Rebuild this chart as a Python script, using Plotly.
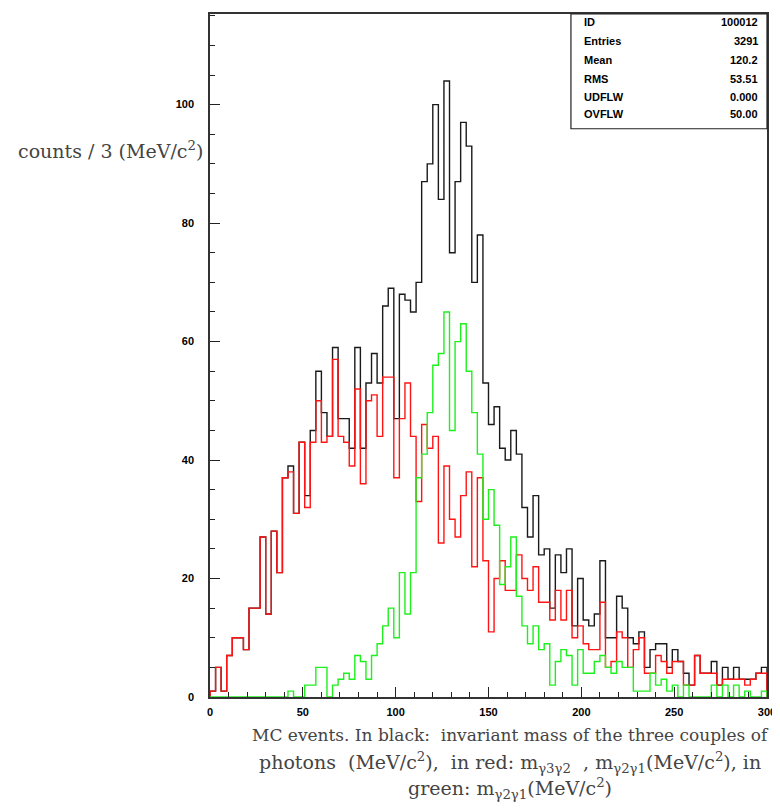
import plotly.graph_objects as go

# Histogram: 100 bins of 3 MeV/c^2 from 0 to 300
bin_width = 3
x_min, x_max = 0, 300

black_counts = [
    1, 5, 1, 7, 10, 10, 8, 15, 15, 27,
    14, 28, 21, 37, 39, 31, 43, 34, 45, 55,
    48, 44, 59, 47, 47, 42, 59, 42, 53, 58,
    53, 66, 69, 47, 68, 67, 65, 70, 87, 90,
    100, 84, 104, 75, 87, 97, 93, 70, 78, 53,
    46, 49, 42, 40, 45, 41, 32, 27, 34, 24,
    25, 15, 24, 21, 25, 12, 20, 13, 12, 14,
    23, 10, 10, 17, 15, 10, 9, 11, 5, 8,
    9, 9, 5, 8, 6, 4, 2, 7, 4, 4,
    6, 2, 5, 3, 5, 3, 3, 3, 4, 5,
]

red_counts = [
    1, 5, 1, 7, 10, 10, 8, 15, 15, 27,
    14, 28, 21, 37, 38, 31, 43, 32, 43, 50,
    43, 44, 57, 44, 43, 39, 52, 36, 50, 51,
    44, 54, 54, 37, 47, 53, 44, 33, 46, 42,
    44, 26, 39, 30, 27, 34, 38, 22, 37, 23,
    11, 20, 23, 18, 18, 24, 20, 18, 22, 16,
    16, 13, 18, 13, 18, 10, 12, 9, 8, 8,
    16, 5, 6, 11, 10, 5, 8, 10, 4, 4,
    7, 6, 4, 6, 6, 2, 2, 7, 4, 4,
    4, 2, 3, 3, 3, 3, 2, 3, 4, 4,
]

green_counts = [
    0, 0, 0, 0, 0, 0, 0, 0, 0, 0,
    0, 0, 0, 0, 1, 0, 0, 2, 2, 5,
    5, 0, 2, 3, 4, 3, 7, 6, 3, 7,
    9, 12, 15, 10, 21, 14, 21, 37, 41, 48,
    56, 58, 65, 45, 60, 63, 55, 48, 41, 30,
    35, 29, 19, 22, 27, 17, 12, 9, 12, 8,
    9, 2, 6, 8, 7, 2, 8, 4, 4, 6,
    7, 5, 4, 6, 5, 5, 1, 1, 1, 4,
    2, 3, 1, 2, 0, 2, 0, 0, 0, 0,
    2, 0, 2, 0, 2, 0, 1, 0, 0, 1,
]

stats_labels = ["ID", "Entries", "Mean", "RMS", "UDFLW", "OVFLW"]
stats_values = ["100012", "3291", "120.2", "53.51", "0.000", "50.00"]

y_title = "counts / 3 (MeV/c<sup>2</sup>)"
caption_lines = [
    "MC events. In black:&nbsp; invariant mass of the three couples of",
    "photons&nbsp; (MeV/c<sup>2</sup>),&nbsp; in red: m<sub>γ3γ2</sub>&nbsp; , m<sub>γ2γ1</sub>(MeV/c<sup>2</sup>), in",
    "green: m<sub>γ2γ1</sub>(MeV/c<sup>2</sup>)",
]

n_bins = len(black_counts)
left_edges = [x_min + i * bin_width for i in range(n_bins)]


def step_xy(counts):
    xs = [left_edges[0]] + left_edges + [x_max]
    ys = [0] + list(counts) + [0]
    return xs, ys


fig = go.Figure()
for counts, color in [(black_counts, "#1a1a1a"), (red_counts, "#ff1414"), (green_counts, "#1ef01e")]:
    xs, ys = step_xy(counts)
    fig.add_trace(go.Scatter(x=xs, y=ys, mode="lines", line=dict(color=color, width=1.4, shape="hv"),
                             hoverinfo="skip", showlegend=False))

tick_font = dict(family="Liberation Sans, Arial, sans-serif", size=11, color="#000", weight="bold")

fig.update_xaxes(range=[x_min, x_max], showgrid=False, zeroline=False,
                 showline=True, mirror=True, linecolor="#333", linewidth=1.5,
                 ticks="inside", ticklen=10, tickwidth=1.2, tickcolor="#222", dtick=50, tick0=0,
                 minor=dict(ticks="inside", ticklen=5, dtick=10, tickcolor="#222", tickwidth=1),
                 tickfont=tick_font, ticklabelstandoff=4)
fig.update_yaxes(range=[0, 115.3], showgrid=False, zeroline=False,
                 showline=True, mirror=True, linecolor="#333", linewidth=1.5,
                 ticks="inside", ticklen=10, tickwidth=1.2, tickcolor="#222", dtick=20, tick0=0,
                 minor=dict(ticks="inside", ticklen=5, dtick=5, tickcolor="#222", tickwidth=1),
                 tickfont=tick_font, ticklabelstandoff=12)

# statistics box
fig.add_shape(type="rect", xref="paper", yref="paper", x0=0.648, x1=1.0, y0=0.832, y1=1.0,
              line=dict(color="#222", width=1.2), fillcolor="white", layer="above")
row_y = [0.988, 0.961, 0.933, 0.905, 0.879, 0.853]
for lab, val, yy in zip(stats_labels, stats_values, row_y):
    fig.add_annotation(xref="paper", yref="paper", x=0.668, y=yy, text=lab, showarrow=False,
                       xanchor="left", yanchor="middle", font=tick_font)
    fig.add_annotation(xref="paper", yref="paper", x=0.9875, y=yy, text=val, showarrow=False,
                       xanchor="right", yanchor="middle", font=tick_font)

serif = "DejaVu Serif, Liberation Serif, serif"
fig.add_annotation(xref="paper", yref="paper", x=-0.009, y=0.8015, text=y_title, showarrow=False,
                   xanchor="right", yanchor="middle", font=dict(family=serif, size=19, color="#444"))

cap_y = [-0.0555, -0.0964, -0.134]
cap_size = [17, 19, 19]
for line, yy, sz in zip(caption_lines, cap_y, cap_size):
    fig.add_annotation(xref="paper", yref="paper", x=0.539, y=yy, text=line, showarrow=False,
                       xanchor="center", yanchor="middle", font=dict(family=serif, size=sz, color="#444"))

fig.update_layout(width=772, height=795, margin=dict(l=202, r=10, t=4, b=106),
                  paper_bgcolor="white", plot_bgcolor="white", showlegend=False)

fig.write_html("out.html")
